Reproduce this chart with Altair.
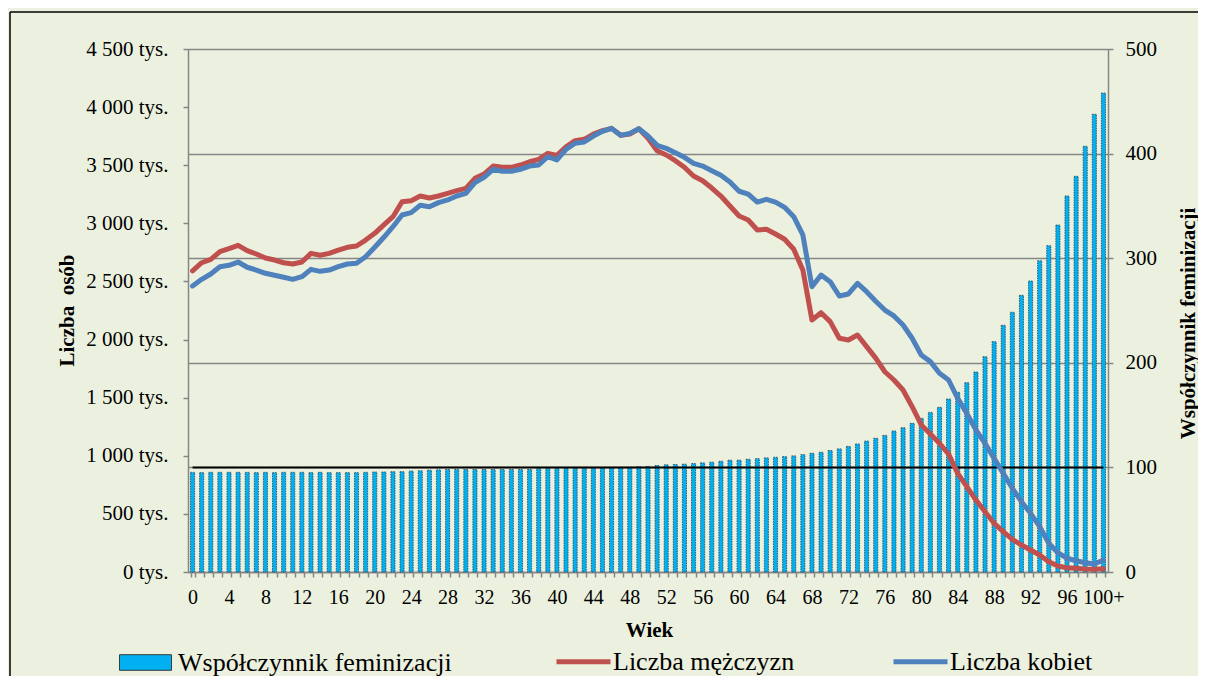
import altair as alt
import pandas as pd

# ---- data ----
ages = [str(a) for a in range(100)] + ["100+"]

men = [2592, 2661, 2690, 2756, 2782, 2811, 2765, 2736, 2702, 2684,
       2661, 2650, 2667, 2742, 2725, 2742, 2770, 2794, 2805, 2856,
       2914, 2986, 3057, 3186, 3195, 3235, 3218, 3235, 3258, 3281,
       3301, 3387, 3424, 3493, 3482, 3482, 3502, 3530, 3551, 3602,
       3585, 3659, 3711, 3723, 3768, 3797, 3817, 3757, 3768, 3814,
       3731, 3625, 3588, 3539, 3482, 3407, 3367, 3304, 3235, 3149,
       3063, 3029, 2943, 2949, 2908, 2863, 2777, 2598, 2168, 2231,
       2154, 2011, 1996, 2039, 1939, 1840, 1723, 1652, 1566, 1422,
       1265, 1187, 1107, 1015, 849, 734, 619, 519, 419, 347,
       281, 232, 189, 146, 89, 52, 37, 32, 26, 23,
       28]

women = [2461, 2518, 2564, 2627, 2639, 2667, 2622, 2598, 2570, 2553,
         2536, 2518, 2541, 2604, 2587, 2598, 2627, 2650, 2656, 2713,
         2794, 2880, 2971, 3072, 3092, 3155, 3143, 3178, 3201, 3235,
         3258, 3350, 3396, 3465, 3448, 3448, 3465, 3493, 3502, 3573,
         3545, 3637, 3689, 3700, 3751, 3792, 3817, 3757, 3774, 3814,
         3751, 3671, 3645, 3608, 3568, 3516, 3493, 3453, 3413, 3356,
         3276, 3252, 3183, 3207, 3183, 3138, 3057, 2900, 2455, 2555,
         2498, 2375, 2392, 2484, 2412, 2330, 2254, 2203, 2125, 2011,
         1867, 1810, 1710, 1652, 1494, 1365, 1222, 1107, 978, 849,
         720, 605, 505, 390, 247, 166, 118, 97, 80, 69,
         103]

fem = [95.3, 95.0, 95.3, 95.3, 95.3, 95.3, 95.3, 95.0, 95.3, 95.0,
       95.3, 95.3, 95.3, 95.0, 95.3, 95.0, 95.0, 95.0, 95.0, 95.3,
       95.6, 95.6, 95.9, 95.9, 96.5, 96.8, 97.4, 97.7, 98.0, 98.0,
       98.0, 98.0, 98.0, 98.0, 98.0, 98.0, 98.0, 98.0, 98.8, 99.0,
       99.0, 99.1, 99.1, 99.3, 99.4, 99.6, 99.8, 99.9, 100.0, 100.6,
       100.9, 101.8, 102.5, 102.8, 103.1, 103.7, 104.3, 105.0, 105.9, 106.9,
       106.9, 107.8, 108.4, 109.1, 109.7, 110.3, 111.0, 112.2, 113.5, 114.5,
       116.1, 117.7, 120.1, 122.4, 125.2, 127.8, 130.6, 134.8, 138.0, 142.1,
       146.9, 152.6, 157.4, 165.4, 171.8, 181.0, 191.2, 205.8, 220.2, 235.8,
       248.3, 264.5, 278.2, 297.6, 312.0, 331.7, 359.5, 378.3, 407.0, 437.6,
       457.9]

ref_ages = ["0", "100+"]
ref_values = [100, 100]

left_ticks = list(range(0, 4501, 500))
right_ticks = list(range(0, 501, 100))

S_FEM = "Współczynnik feminizacji"
S_MEN = "Liczba mężczyzn"
S_WOM = "Liczba kobiet"

df_fem = pd.DataFrame({"age": ages, "fem": fem, "s": S_FEM})
df_men = pd.DataFrame({"age": ages, "v": men, "s": S_MEN})
df_wom = pd.DataFrame({"age": ages, "v": women, "s": S_WOM})
df_ref = pd.DataFrame({"age": ref_ages, "r": ref_values})

FONT = "Liberation Serif"
GRAY = "#868686"
BG = "#EBF1DE"

x_enc = alt.X(
    "age:N",
    scale=alt.Scale(domain=ages, paddingInner=0.55, paddingOuter=0.275),
    axis=alt.Axis(
        title="Wiek", titleFont=FONT, titleFontSize=21, titleFontWeight="bold",
        titleColor="black", titleX=461, titleY=58, titleBaseline="middle",
        labelExpr="toNumber(replace(datum.value, '+', '')) % 4 == 0 ? datum.value : ''",
        labelFont=FONT, labelFontSize=20, labelColor="black", labelAngle=0,
        labelPadding=10, labelOverlap=False, tickBand="extent", tickSize=5,
        tickColor=GRAY, tickWidth=1.5, domainColor=GRAY, domainWidth=1.5,
        grid=False,
    ),
)

right_axis = alt.Axis(
    orient="right", values=right_ticks, grid=True, gridColor=GRAY, gridWidth=1.5,
    labelFont=FONT, labelFontSize=21, labelColor="black", labelPadding=12,
    tickSize=5, tickColor=GRAY, tickWidth=1.5, domainColor=GRAY, domainWidth=1.5,
    title=S_FEM, titleFont=FONT, titleFontSize=21, titleFontWeight="bold",
    titleColor="black", titleAngle=270, titleX=80, titleY=274,
    titleAlign="center", titleBaseline="middle",
)

left_axis = alt.Axis(
    orient="left", values=left_ticks, grid=False,
    labelExpr="replace(format(datum.value, ',d'), ',', ' ') + ' tys.'",
    labelFont=FONT, labelFontSize=21, labelColor="black", labelPadding=15,
    tickSize=5, tickColor=GRAY, tickWidth=1.5, domainColor=GRAY, domainWidth=1.5,
    title="Liczba\u00a0 osób", titleFont=FONT, titleFontSize=21, titleFontWeight="bold",
    titleColor="black", titleAngle=270, titleX=-121, titleY=261,
    titleAlign="center", titleBaseline="middle",
)

y_right = alt.Scale(domain=[0, 500], nice=False)
y_left = alt.Scale(domain=[0, 4500], nice=False)

bars = alt.Chart(df_fem).mark_bar(
    stroke="#2F3F4F", strokeWidth=0.8, strokeDash=[1.5, 1]
).encode(
    x=x_enc,
    y=alt.Y("fem:Q", scale=y_right, axis=right_axis),
    fill=alt.Fill(
        "s:N",
        scale=alt.Scale(domain=[S_FEM], range=["#00B0F0"]),
        legend=alt.Legend(
            title=None, orient="none", legendX=-69, legendY=587,
            direction="horizontal",
            symbolType="M-1,-0.3H1V0.3H-1Z", symbolSize=2704,
            symbolStrokeColor="#3A3A3A", symbolStrokeWidth=1,
            labelFont=FONT, labelFontSize=26, labelColor="black", labelOffset=6,
            labelLimit=400,
        ),
    ),
)

ref = alt.Chart(df_ref).mark_line(color="black", strokeWidth=2).encode(
    x=x_enc,
    y=alt.Y("r:Q", scale=y_right, axis=right_axis),
)

stroke_scale = alt.Scale(domain=[S_MEN, S_WOM], range=["#C0504D", "#4F81BD"])
stroke_legend = alt.Legend(
    title=None, orient="none", legendX=366, legendY=583, direction="horizontal",
    symbolType="stroke", symbolSize=2916, symbolStrokeWidth=5,
    labelFont=FONT, labelFontSize=26, labelColor="black", labelOffset=0,
    columnPadding=88, labelLimit=400,
)

men_line = alt.Chart(df_men).mark_line(
    strokeWidth=5, strokeJoin="round", strokeCap="round"
).encode(
    x=x_enc,
    y=alt.Y("v:Q", scale=y_left, axis=left_axis),
    stroke=alt.Stroke("s:N", scale=stroke_scale, legend=stroke_legend),
)

wom_line = alt.Chart(df_wom).mark_line(
    strokeWidth=5, strokeJoin="round", strokeCap="round"
).encode(
    x=x_enc,
    y=alt.Y("v:Q", scale=y_left, axis=left_axis),
    stroke=alt.Stroke("s:N", scale=stroke_scale, legend=stroke_legend),
)

frame = alt.Chart(pd.DataFrame({"k": [0]})).mark_rule(color="black", strokeWidth=1.5)
frame_left = frame.encode(x=alt.value(-178), y=alt.value(-37), y2=alt.value(640))
frame_top = frame.encode(x=alt.value(-178), x2=alt.value(1030), y=alt.value(-37))

right_layer = alt.layer(bars, ref)
left_layer = alt.layer(men_line, wom_line)

chart = (
    alt.layer(right_layer, left_layer, frame_left, frame_top)
    .resolve_scale(y="independent")
    .properties(
        width=920, height=523,
        padding={"left": 180, "top": 41, "right": 90, "bottom": 104},
        autosize=alt.AutoSizeParams(type="none"),
        background=BG,
    )
    .configure_view(strokeWidth=0)
)

chart.save("out.html", embed_options={"renderer": "svg", "actions": False})
